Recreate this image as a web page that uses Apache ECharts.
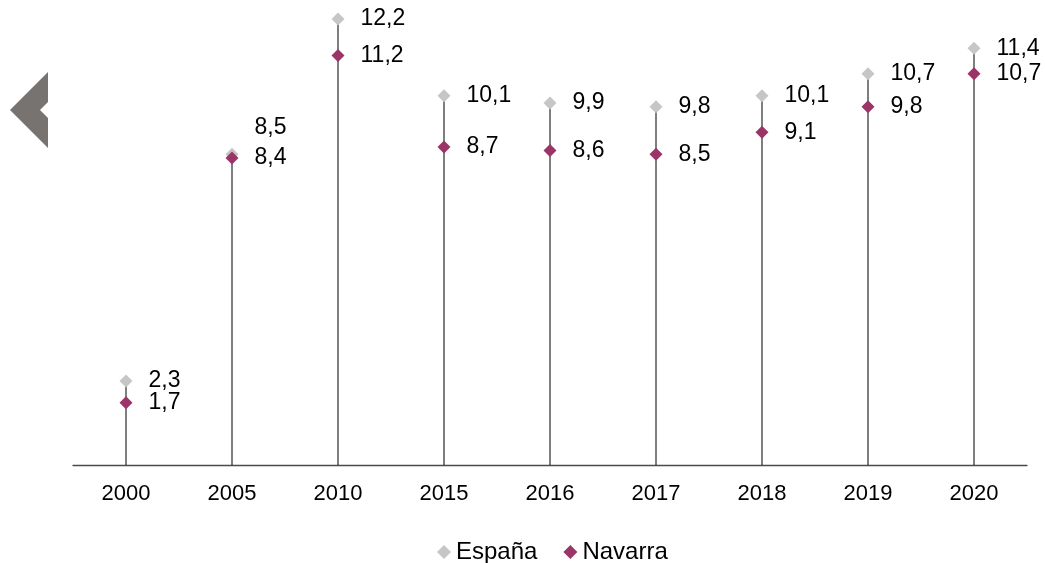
<!DOCTYPE html>
<html><head><meta charset="utf-8">
<script src="https://cdn.jsdelivr.net/npm/echarts@6/dist/echarts.min.js"></script>
<style>html,body{margin:0;padding:0;background:#fff}#c{width:1045px;height:563px}</style>
</head><body><div id="c"></div>
<script>
const categories = ['2000','2005','2010','2015','2016','2017','2018','2019','2020'];
const espana = [2.3, 8.5, 12.2, 10.1, 9.9, 9.8, 10.1, 10.7, 11.4];
const navarra = [1.7, 8.4, 11.2, 8.7, 8.6, 8.5, 9.1, 9.8, 10.7];

const FONT = 'Liberation Sans, Arial, sans-serif';
const fmt = p => String(p.value).replace('.', ',');
const labelBase = {show:true, position:'right', distance:16, formatter:fmt, color:'#000', fontSize:23, fontFamily:FONT};

const chart = echarts.init(document.getElementById('c'), null, {renderer:'canvas'});
chart.setOption({
  animation:false,
  backgroundColor:'#fff',
  grid:{left:73, right:18, top:8, bottom:98},
  legend:{
    data:['España','Navarra'], top:535, left:432, itemWidth:14, itemHeight:14, itemGap:26,
    textStyle:{fontSize:24, color:'#000', fontFamily:FONT}
  },
  xAxis:{
    type:'category', data:categories,
    axisLine:{lineStyle:{color:'#4a4a4a', width:1.3}},
    axisTick:{show:false},
    axisLabel:{margin:18, fontSize:22, color:'#000', fontFamily:FONT}
  },
  yAxis:{type:'value', min:0, max:12.5, show:false, splitLine:{show:false}},
  series:[
    {name:'line', type:'bar', data:espana, barWidth:1, itemStyle:{color:'#000'}, silent:true, z:1},
    {name:'España', type:'scatter', data:espana.map((v,i)=> i===1 ? {value:v, label:{offset:[0,-27]}} : v),
     symbol:'diamond', symbolSize:13, itemStyle:{color:'#c6c6c6', opacity:1}, label:labelBase, z:3},
    {name:'Navarra', type:'scatter', data:navarra, symbol:'diamond', symbolSize:13,
     itemStyle:{color:'#9c3567', opacity:1}, label:labelBase, z:4}
  ],
  graphic:[{
    type:'polygon', silent:true,
    shape:{points:[[10,110],[48,72],[48,102],[40,110],[48,118],[48,148]]},
    style:{fill:'#777371'}
  }]
});
</script></body></html>
